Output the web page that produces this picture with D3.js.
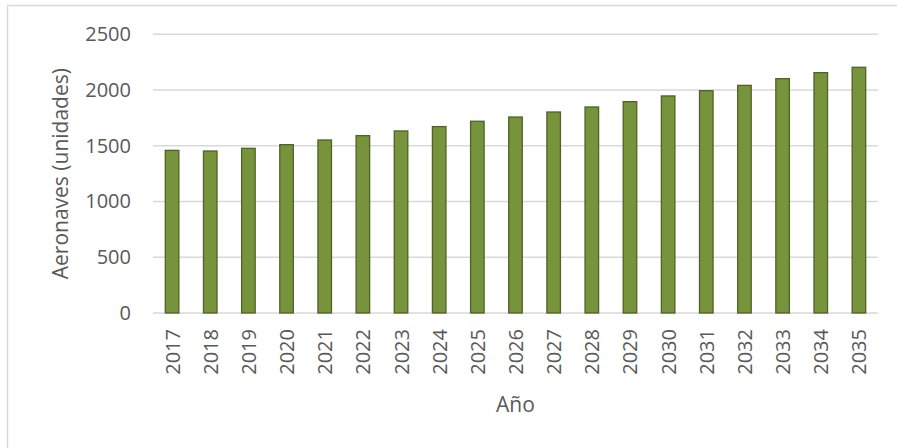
<!DOCTYPE html>
<html>
<head>
<meta charset="utf-8">
<script src="https://cdn.jsdelivr.net/npm/d3@7"></script>
<style>
  html, body { margin: 0; padding: 0; background: #fff; }
  svg { display: block; font-family: "Open Sans", "Liberation Sans", sans-serif; }
</style>
</head>
<body>
<svg id="chart" width="897" height="448"></svg>
<script>
// Flota proyectada de aeronaves por año
const years = ["2017","2018","2019","2020","2021","2022","2023","2024","2025","2026",
               "2027","2028","2029","2030","2031","2032","2033","2034","2035"];
const aircraft = [1459, 1453, 1477, 1510, 1552, 1591, 1633, 1672, 1720, 1758,
                  1803, 1848, 1896, 1947, 1994, 2042, 2102, 2156, 2204];
const yTicks = [0, 500, 1000, 1500, 2000, 2500];
const xTitle = "Año";
const yTitle = "Aeronaves (unidades)";

const svg = d3.select("#chart");
const W = 897, H = 448;
const plot = { left: 153, right: 878, top: 34.3, bottom: 313 };

// Chart area frame
svg.append("rect")
  .attr("x", 7.5).attr("y", 5.5)
  .attr("width", W).attr("height", H)
  .attr("fill", "#fff")
  .attr("stroke", "#d9d9d9").attr("stroke-width", 1.5);

const x = d3.scaleBand()
  .domain(years)
  .range([plot.left, plot.right])
  .paddingInner(0.645).paddingOuter(0.3225);

const y = d3.scaleLinear()
  .domain([0, 2500])
  .range([plot.bottom, plot.top]);

// Horizontal gridlines
svg.append("g")
  .selectAll("line")
  .data(yTicks)
  .join("line")
  .attr("x1", plot.left).attr("x2", plot.right)
  .attr("y1", d => y(d)).attr("y2", d => y(d))
  .attr("stroke", "#d9d9d9").attr("stroke-width", 1.5);

// Y axis labels
const yAxis = d3.axisLeft(y).tickValues(yTicks).tickSize(0).tickPadding(22)
  .tickFormat(d3.format("d"));
svg.append("g")
  .attr("transform", `translate(${plot.left},0)`)
  .call(yAxis)
  .call(g => g.select(".domain").remove())
  .call(g => g.selectAll("text")
    .attr("fill", "#595959")
    .attr("font-size", 20)
    .attr("font-family", "'Open Sans', sans-serif"));

// Bars
svg.append("g")
  .selectAll("rect")
  .data(years.map((yr, i) => ({ yr, v: aircraft[i] })))
  .join("rect")
  .attr("x", d => x(d.yr))
  .attr("y", d => y(d.v))
  .attr("width", x.bandwidth())
  .attr("height", d => y(0) - y(d.v))
  .attr("fill", "#77933c")
  .attr("stroke", "#4f6228")
  .attr("stroke-width", 1.3);

// X axis labels (rotated)
const xAxis = d3.axisBottom(x).tickSize(0).tickPadding(0);
svg.append("g")
  .attr("transform", `translate(0,${plot.bottom})`)
  .call(xAxis)
  .call(g => g.select(".domain").remove())
  .call(g => g.selectAll("text")
    .attr("fill", "#595959")
    .attr("font-size", 20)
    .attr("font-family", "'Open Sans', sans-serif")
    .attr("text-anchor", "end")
    .attr("dy", null)
    .attr("transform", "rotate(-90)")
    .attr("x", -16)
    .attr("y", 0)
    .attr("dominant-baseline", "central"));

// Axis titles
svg.append("text")
  .attr("x", (plot.left + plot.right) / 2)
  .attr("y", 412)
  .attr("text-anchor", "middle")
  .attr("fill", "#595959")
  .attr("font-size", 21)
  .text(xTitle);

svg.append("text")
  .attr("transform", `translate(68,${(plot.top + plot.bottom) / 2}) rotate(-90)`)
  .attr("text-anchor", "middle")
  .attr("fill", "#595959")
  .attr("font-size", 21)
  .text(yTitle);
</script>
</body>
</html>
